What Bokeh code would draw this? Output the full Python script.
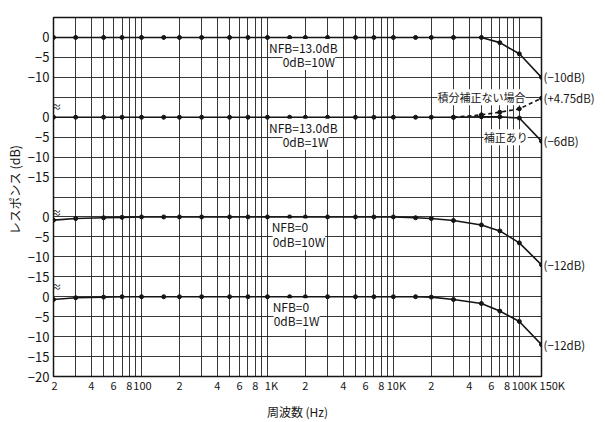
import math
from bokeh.plotting import figure
from bokeh.models import (FixedTicker, Label, LinearAxis, Title,
                          CustomJSTickFormatter)
from bokeh.embed import file_html
from bokeh.resources import INLINE

# ---------------- data ----------------
freq = [20, 30, 50, 70, 100, 150, 200, 300, 500, 700,
        1000, 1500, 2000, 3000, 5000, 7000,
        10000, 15000, 20000, 30000, 50000, 70000, 100000, 150000]

# NFB=13.0dB, 0dB=10W
nfb13_10w = [0, 0, 0, 0, 0, 0, 0, 0, 0, 0,
             0, 0, 0, 0, 0, 0,
             0, 0, 0, 0, 0, -1.3, -4.1, -10]
# NFB=13.0dB, 0dB=1W (with compensation: 補正あり)
nfb13_1w = [0, 0, 0, 0, 0, 0, 0, 0, 0, 0,
            0, 0, 0, 0, 0, 0,
            0, 0, 0, 0, 0.1, 0.1, -0.2, -6]
# NFB=13.0dB, 0dB=1W (without integral compensation: 積分補正ない場合)
nocomp_freq = [30000, 50000, 70000, 100000, 150000]
nocomp_db = [0, 0.6, 1.25, 2.1, 4.75]
# NFB=0, 0dB=10W
nfb0_10w = [-0.8, -0.4, -0.2, -0.1, 0, 0, 0, 0, 0, 0,
            0, 0, 0, 0, 0, 0,
            0, -0.2, -0.4, -0.9, -2.0, -3.5, -6.5, -12]
# NFB=0, 0dB=1W
nfb0_1w = [-0.7, -0.25, -0.1, 0, 0, 0, 0, 0, 0, 0,
           0, 0, 0, 0, 0, 0,
           0, 0, -0.1, -0.7, -1.7, -3.6, -6.2, -12]

end_labels = ["(−12dB)", "(−12dB)", "(−6dB)", "(+4.75dB)", "(−10dB)"]

# x tick labels (value, text)
x_label_ticks = [20, 40, 60, 80, 100, 200, 400, 600, 800, 1000,
                 2000, 4000, 6000, 8000, 10000, 20000, 40000, 60000, 80000,
                 100000, 150000]
x_labels = ["2", "4", "6", "8", "100", "2", "4", "6", "8", "1K",
            "2", "4", "6", "8", "10K", "2", "4", "6", "8", "100K", "150K"]

x_grid = [20, 30, 40, 50, 60, 70, 80, 90,
          100, 200, 300, 400, 500, 600, 700, 800, 900,
          1000, 2000, 3000, 4000, 5000, 6000, 7000, 8000, 9000,
          10000, 20000, 30000, 40000, 50000, 60000, 70000, 80000, 90000,
          100000]

# stacked panels: each panel's 0 dB line on the common vertical scale
OFF1, OFF2, OFF3, OFF4 = 85, 65, 40, 20
y_ticks = list(range(0, 91, 5))
y_labels = {85: "0", 80: "−5", 75: "−10",
            65: "0", 60: "−5", 55: "−10", 50: "−15",
            40: "0", 35: "−5", 30: "−10", 25: "−15",
            20: "0", 15: "−5", 10: "−10", 5: "−15", 0: "−20",
            90: "", 70: "", 45: ""}

FONT = "Noto Sans CJK JP"
INK = "#151515"
X_LO, X_HI = 20, 150000

W, H = 604, 422
ML, MR, MT, MB = 53, 63, 17, 45
FRAME_W = W - ML - MR

p = figure(width=W, height=H, x_axis_type="log",
           x_range=(X_LO, X_HI), y_range=(0, 90),
           output_backend="svg", toolbar_location=None,
           min_border_left=ML, min_border_right=MR,
           min_border_top=MT, min_border_bottom=MB)
p.background_fill_color = "white"
p.border_fill_color = "white"
p.outline_line_color = INK
p.outline_line_width = 1.5

# grids
p.xgrid.ticker = FixedTicker(ticks=x_grid)
p.ygrid.ticker = FixedTicker(ticks=y_ticks)
for g in (p.xgrid, p.ygrid):
    g.grid_line_color = "#222222"
    g.grid_line_width = 1
    g.grid_line_alpha = 0.9

# bottom axis labels. The frame ends at 150K, so its label is set on the
# same line as "100K" (one label centred just inside the edge).
shown_labels = x_labels[:-2] + [x_labels[-2] + " " + x_labels[-1]]
shown_ticks = x_label_ticks[:-1]
nudge_px = [1, 0, 0, 0, 1, 0, 0, 0, 0, 4,
            0, 0, 0, 0, 3, 0, 0, 0, 0, 19]
span_main = math.log10(X_HI / X_LO)
label_pos = []
for f, d in zip(shown_ticks, nudge_px):
    frac = math.log10(f / X_LO) / span_main + d / FRAME_W
    label_pos.append(X_LO * 10 ** (frac * span_main))

xa = p.xaxis[0]
xa.ticker = FixedTicker(ticks=label_pos)
xa.formatter = CustomJSTickFormatter(args=dict(pos=label_pos, labs=shown_labels), code="""
let best = 0, bd = 1e9;
for (let i = 0; i < pos.length; i++) {
  const d = Math.abs(Math.log(tick) - Math.log(pos[i]));
  if (d < bd) { bd = d; best = i; }
}
return labs[best];
""")
xa.major_label_text_font = FONT
xa.major_label_text_font_size = "11px"
xa.major_label_text_color = INK
xa.major_label_standoff = 0
xa.axis_line_color = None
xa.major_tick_line_color = None
xa.minor_tick_line_color = None
xa.major_tick_out = 0
xa.major_tick_in = 0
xa.minor_tick_out = 0
xa.minor_tick_in = 0
xa.axis_label = "周波数 (Hz)"
xa.axis_label_text_font = FONT
xa.axis_label_text_font_style = "normal"
xa.axis_label_text_font_size = "12px"
xa.axis_label_text_color = INK
xa.axis_label_standoff = 7

# left axis
ya = p.yaxis[0]
ya.ticker = FixedTicker(ticks=y_ticks)
ya.major_label_overrides = y_labels
ya.axis_line_color = None
ya.major_tick_line_color = None
ya.minor_tick_line_color = None
ya.major_tick_out = 0
ya.major_tick_in = 0
ya.major_label_standoff = 4
ya.major_label_text_font = FONT
ya.major_label_text_font_size = "13px"
ya.major_label_text_color = INK

# curves
def curve(fx, db, off, dash="solid"):
    y = [d + off for d in db]
    p.line(fx, y, line_color=INK, line_width=1.6, line_dash=dash)
    p.scatter(fx, y, size=4, color=INK)
    return y

y1 = curve(freq, nfb13_10w, OFF1)
y2 = curve(freq, nfb13_1w, OFF2)
y2b = curve(nocomp_freq, nocomp_db, OFF2, dash="4 3")
y3 = curve(freq, nfb0_10w, OFF3)
y4 = curve(freq, nfb0_1w, OFF4)

# right axis carrying the end-value labels
end_ticks = [y4[-1], y3[-1], y2[-1], y2b[-1], y1[-1]]
ra = LinearAxis(ticker=FixedTicker(ticks=end_ticks),
                major_label_overrides=dict(zip(end_ticks, end_labels)))
ra.axis_line_color = None
ra.major_tick_line_color = None
ra.minor_tick_line_color = None
ra.major_tick_out = 0
ra.major_tick_in = 0
ra.major_label_standoff = 2
ra.major_label_text_font = FONT
ra.major_label_text_font_size = "11.5px"
ra.major_label_text_color = INK
p.add_layout(ra, "right")

# y-axis title on the left
p.add_layout(Title(text="レスポンス (dB)", align="left", offset=142,
                   text_font=FONT, text_font_size="12.5px",
                   text_font_style="normal", text_color=INK,
                   standoff=2), "left")

def lab(x, y, text, size="12px", align="left", bg="white", x_offset=0):
    p.add_layout(Label(x=x, y=y, text=text, text_font=FONT,
                       text_font_size=size, text_color=INK,
                       text_align=align, text_baseline="middle",
                       x_offset=x_offset, background_fill_color=bg))

# panel captions (lower line first, upper line drawn over it)
lab(1320, 79.0, "0dB=10W")
lab(1030, 82.5, "NFB=13.0dB")
lab(1320, 59.0, "0dB=1W")
lab(1030, 62.5, "NFB=13.0dB")
lab(1100, 33.8, "0dB=10W")
lab(1080, 37.5, "NFB=0")
lab(1120, 14.0, "0dB=1W")
lab(1100, 17.5, "NFB=0")

# curve annotations
lab(50000, 70, "積分補正ない場合", size="11px", align="center")
lab(78000, 60, "補正あり", size="11px", align="center")

# axis-break marks
for yy in (67.75, 41.0, 22.5):
    lab(20, yy, "≈", size="10px", align="left", bg=None, x_offset=-2)

open("out.html", "w").write(file_html(p, INLINE))
